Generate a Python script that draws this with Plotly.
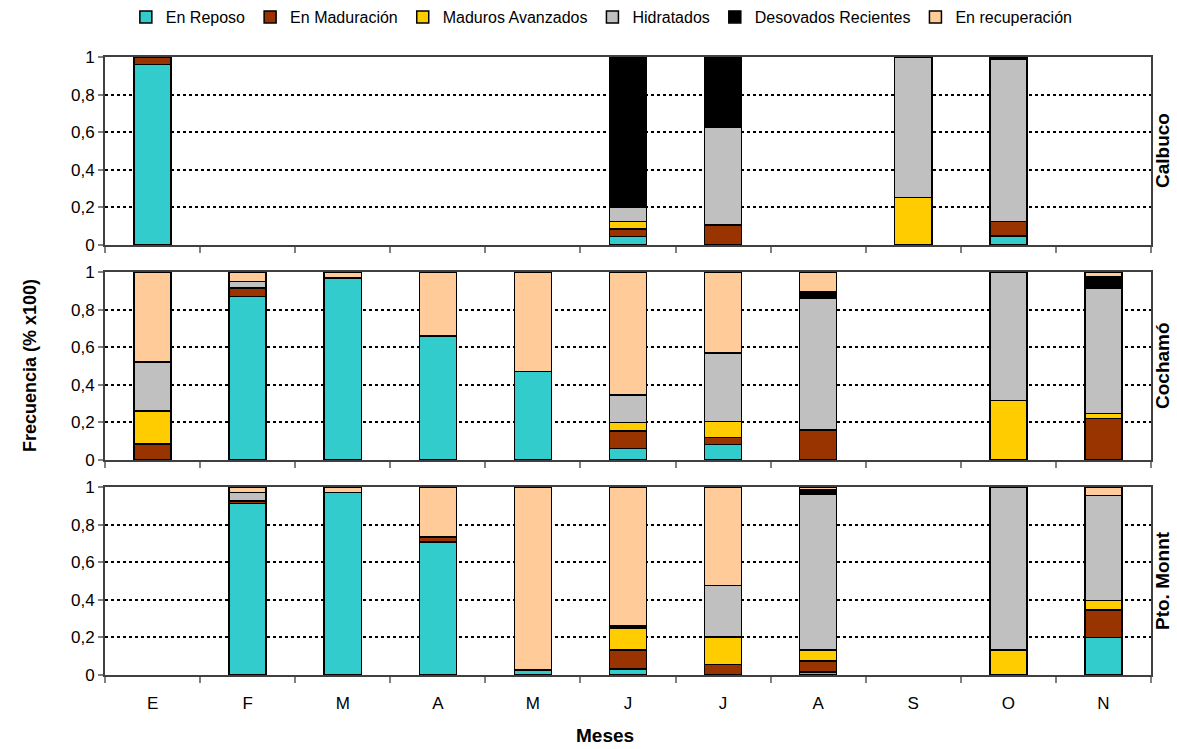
import plotly.graph_objects as go

months = ["E", "F", "M", "A", "M", "J", "J", "A", "S", "O", "N"]
series_names = ["En Reposo", "En Maduración", "Maduros Avanzados", "Hidratados",
                "Desovados Recientes", "En recuperación"]
colors = ["#33CCCC", "#993300", "#FFCC00", "#C0C0C0", "#000000", "#FFCC99"]
sites = ["Calbuco", "Cochamó", "Pto. Monnt"]

# Calbuco
calbuco_reposo = [0.96, 0, 0, 0, 0, 0.045, 0, 0, 0, 0.048, 0]
calbuco_maduracion = [0.04, 0, 0, 0, 0, 0.04, 0.106, 0, 0, 0.076, 0]
calbuco_avanzados = [0, 0, 0, 0, 0, 0.04, 0, 0, 0.252, 0, 0]
calbuco_hidratados = [0, 0, 0, 0, 0, 0.075, 0.52, 0, 0.748, 0.865, 0]
calbuco_desovados = [0, 0, 0, 0, 0, 0.80, 0.374, 0, 0, 0.011, 0]
calbuco_recuperacion = [0, 0, 0, 0, 0, 0, 0, 0, 0, 0, 0]

# Cochamó
cochamo_reposo = [0, 0.87, 0.969, 0.659, 0.472, 0.06, 0.082, 0, 0, 0, 0]
cochamo_maduracion = [0.086, 0.045, 0, 0, 0, 0.093, 0.039, 0.16, 0, 0, 0.22]
cochamo_avanzados = [0.174, 0, 0, 0, 0, 0.047, 0.085, 0, 0, 0.316, 0.027]
cochamo_hidratados = [0.26, 0.035, 0, 0, 0, 0.147, 0.362, 0.70, 0, 0.684, 0.669]
cochamo_desovados = [0, 0, 0, 0, 0, 0, 0, 0.036, 0, 0, 0.058]
cochamo_recuperacion = [0.48, 0.05, 0.031, 0.341, 0.528, 0.653, 0.432, 0.104, 0, 0, 0.026]

# Pto. Montt
montt_reposo = [0, 0.911, 0.97, 0.707, 0.027, 0.032, 0, 0.016, 0, 0, 0.20]
montt_maduracion = [0, 0.014, 0, 0.028, 0, 0.101, 0.055, 0.059, 0, 0, 0.146]
montt_avanzados = [0, 0, 0, 0, 0, 0.117, 0.147, 0.058, 0, 0.132, 0.05]
montt_hidratados = [0, 0.046, 0, 0, 0, 0, 0.274, 0.828, 0, 0.868, 0.558]
montt_desovados = [0, 0, 0, 0, 0, 0.013, 0, 0.025, 0, 0, 0]
montt_recuperacion = [0, 0.029, 0.03, 0.265, 0.973, 0.737, 0.524, 0.014, 0, 0, 0.046]

panels = [
    [calbuco_reposo, calbuco_maduracion, calbuco_avanzados, calbuco_hidratados,
     calbuco_desovados, calbuco_recuperacion],
    [cochamo_reposo, cochamo_maduracion, cochamo_avanzados, cochamo_hidratados,
     cochamo_desovados, cochamo_recuperacion],
    [montt_reposo, montt_maduracion, montt_avanzados, montt_hidratados,
     montt_desovados, montt_recuperacion],
]

y_ticks = [0, 0.2, 0.4, 0.6, 0.8, 1]
y_ticktext = ["0", "0,2", "0,4", "0,6", "0,8", "1"]

FONT = "Liberation Sans, Arial, sans-serif"
BOLD = "Liberation Sans, Arial, sans-serif"

x_pos = list(range(len(months)))

fig = go.Figure()
for p, data in enumerate(panels):
    axn = "" if p == 0 else str(p + 1)
    for s, vals in enumerate(data):
        fig.add_trace(go.Bar(
            x=x_pos, y=[v if v > 0 else None for v in vals], name=series_names[s],
            marker=dict(color=colors[s], line=dict(color="#000000", width=1.5)),
            width=0.39, legendgroup=series_names[s], showlegend=(p == 0),
            xaxis="x" + axn, yaxis="y" + axn,
        ))

H = 618.0
domains = [
    [(675 - 245) / H, 1.0],
    [(675 - 460) / H, (675 - 272) / H],
    [0.0, (675 - 487) / H],
]

layout = dict(
    barmode="stack",
    width=1177, height=749,
    margin=dict(l=105, r=26, t=57, b=74, autoexpand=False),
    paper_bgcolor="white", plot_bgcolor="white",
    font=dict(family=FONT, size=16, color="#000000"),
    legend=dict(orientation="h", x=0.475, xanchor="center",
                yref="container", y=1 - 17 / 749.0, yanchor="middle",
                font=dict(family=FONT, size=16), itemwidth=30, tracegroupgap=0,
                traceorder="normal", itemclick=False),
)

for p in range(3):
    axn = "" if p == 0 else str(p + 1)
    layout["xaxis" + axn] = dict(
        domain=[0, 1], anchor="y" + axn, range=[-0.5, 10.5],
        tickvals=x_pos, ticktext=months, showticklabels=(p == 2),
        ticks="", ticklabelstandoff=12,
        minor=dict(tick0=0.5, dtick=1, ticks="outside", ticklen=6, tickcolor="#808080", tickwidth=1.5),
        showline=True, linecolor="#404040", linewidth=2, mirror=True,
        showgrid=False, zeroline=False, fixedrange=True,
        tickfont=dict(family=FONT, size=17),
    )
    layout["yaxis" + axn] = dict(
        domain=domains[p], anchor="x" + axn, range=[0, 1.0],
        tickvals=y_ticks, ticktext=y_ticktext,
        ticks="outside", ticklen=5, tickcolor="#808080", tickwidth=1.5,
        showline=True, linecolor="#404040", linewidth=2, mirror=True,
        showgrid=True, gridcolor="#000000", gridwidth=2, griddash="dot",
        zeroline=False, fixedrange=True,
        tickfont=dict(family=FONT, size=17),
    )

fig.update_layout(**layout)

annotations = []
centers = [(d[0] + d[1]) / 2 for d in domains]
for p in range(3):
    annotations.append(dict(
        text="<b>%s</b>" % sites[p], x=1 + 11 / 1046, y=centers[p],
        xref="paper", yref="paper", xanchor="center", yanchor="middle",
        textangle=-90, showarrow=False, font=dict(family=BOLD, size=19, color="#000000"),
    ))
annotations.append(dict(
    text="<b>Frecuencia (% x100)</b>", x=-75 / 1046, y=centers[1],
    xref="paper", yref="paper", xanchor="center", yanchor="middle",
    textangle=-90, showarrow=False, font=dict(family=BOLD, size=18, color="#000000"),
))
annotations.append(dict(
    text="<b>Meses</b>", x=0.478, y=-60 / H,
    xref="paper", yref="paper", xanchor="center", yanchor="middle",
    showarrow=False, font=dict(family=BOLD, size=19, color="#000000"),
))
fig.update_layout(annotations=annotations)

fig.write_html("out.html", config={"displayModeBar": False},
               post_script="document.body.style.margin='0';document.body.style.padding='0';")
